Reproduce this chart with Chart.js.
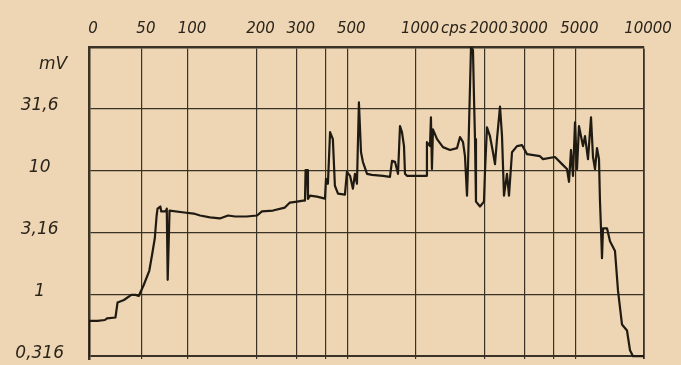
<!DOCTYPE html>
<html>
<head>
<meta charset="utf-8">
<script src="https://cdn.jsdelivr.net/npm/chart.js@4/dist/chart.umd.min.js"></script>
<style>
  html, body { margin: 0; padding: 0; background: #eed6b4; overflow: hidden; }
  #wrap { position: relative; width: 681px; height: 365px; }
</style>
</head>
<body>
<div id="wrap"><canvas id="c"></canvas></div>
<script>
// ---- data (frequency in cps, level in mV) ----
const freqHz = [0,0,8,15,17,25,27,33,40,44,
  47,52,58,61,64,66,67,70,71,76,
  77,78,80,96,106,113,125,138,150,161,
  181,201,211,236,266,280,301,320,326,328,
  333,336,343,368,399,403,411,420,432,441,
  455,488,498,514,529,540,551,562,574,585,
  610,641,717,769,785,809,834,851,868,886,
  895,913,1117,1117,1152,1163,1175,1187,1237,1313,
  1410,1513,1560,1608,1640,1674,1691,1743,1778,1796,
  1815,1833,1909,1987,2007,2048,2111,2176,2221,2266,
  2336,2384,2432,2507,2558,2637,2773,2917,3068,3499,
  3606,4069,4370,4595,4689,4784,4882,4982,5083,5187,
  5401,5511,5681,5856,5975,6097,6222,6348,6412,6477,
  6543,6610,6882,7094,7461,7691,8008,8422,8682,8950,
  10000];
const levelMV = [0.316,0.61,0.61,0.62,0.64,0.65,0.86,0.9,0.99,0.99,
  0.97,1.19,1.55,2.08,2.84,4.34,4.94,5.13,4.68,4.68,
  4.94,1.31,4.76,4.59,4.5,4.34,4.19,4.11,4.34,4.26,
  4.26,4.34,4.68,4.76,5.03,5.52,5.62,5.73,5.73,10.1,
  10.1,5.9,6.28,6.17,5.94,8.6,7.84,20.5,18.0,7.55,
  6.52,6.4,9.78,9.08,7.15,9.43,7.84,35.6,14.1,11.8,
  9.43,9.25,9.08,8.9,12.0,11.8,9.43,22.9,20.5,15.8,
  9.43,9.08,9.08,17.0,15.8,27.0,10.3,21.6,18.0,15.5,
  14.7,15.2,18.7,17.0,13.1,6.28,10.9,100,94.6,39.7,
  18.0,5.62,5.13,5.62,9.78,22.4,19.0,14.1,11.3,18.0,
  33.0,19.0,6.28,9.43,6.28,14.1,15.8,16.1,13.6,13.1,
  12.4,12.9,11.3,10.3,8.13,14.7,9.08,24.6,10.3,22.9,
  15.8,19.0,12.4,27.0,12.9,10.3,15.2,12.4,5.62,3.42,
  1.96,3.42,3.42,2.69,2.24,1.07,0.57,0.51,0.353,0.316,
  0.316];

const xTickFreqs  = [0, 50, 100, 200, 300, 400, 500, 1000, 2000, 3000, 4000, 5000, 10000];
const xTickLabels = ['0','50','100','200','300','','500','1000','2000','3000','','5000','10000'];
const xUnitLabel  = 'cps';
const yTickValues = [0.316, 1, 3.16, 10, 31.6, 100];
const yTickLabels = ['0,316', '1', '3,16', '10', '31,6', ''];
const yUnitLabel  = 'mV';

// frequency axis of the paper: logarithmic above 100 cps, compressed below
function freqToPos(f) {
  if (f >= 100) return Math.log10(f);
  if (f >= 50) return 1.798 + (f - 50) / 50 * (2 - 1.798);
  return 1.566 + f / 50 * (1.798 - 1.566);
}

const ink = '#2a241b';
const gridInk = '#3a3227';
const fontFam = "'DejaVu Sans', sans-serif";

const unitPlugin = {
  id: 'units',
  afterDraw(chart) {
    const ctx = chart.ctx;
    const xs = chart.scales.x, ys = chart.scales.y;
    ctx.save();
    ctx.fillStyle = ink;
    // "cps" after the 1000 label
    const items = xs.getLabelItems();
    const idx = xTickLabels.indexOf('1000');
    const it = items[idx];
    if (it) {
      ctx.font = it.font.string;
      ctx.textBaseline = it.options.textBaseline;
      ctx.textAlign = 'left';
      const w = ctx.measureText(it.label).width;
      ctx.fillText(xUnitLabel, it.options.translation[0] + w / 2 + 2, it.options.translation[1] + it.textOffset);
    }
    // "mV" near the top of the level axis
    ctx.font = "italic 17px " + fontFam;
    ctx.textAlign = 'center';
    ctx.textBaseline = 'middle';
    ctx.fillText(yUnitLabel, chart.chartArea.left - 36, ys.getPixelForValue(72));
    ctx.restore();
  }
};

new Chart(document.getElementById('c'), {
  type: 'line',
  data: {
    datasets: [{
      data: freqHz.map((f, i) => ({ x: freqToPos(f), y: levelMV[i] })),
      borderColor: '#1f1a12',
      borderWidth: 2.2,
      pointRadius: 0,
      tension: 0,
      fill: false,
      borderJoinStyle: 'round',
      borderCapStyle: 'round'
    }]
  },
  options: {
    responsive: true,
    maintainAspectRatio: false,
    animation: false,
    devicePixelRatio: 1,
    layout: { padding: { left: 0, right: 37, top: 0, bottom: 6 } },
    plugins: { legend: { display: false }, tooltip: { enabled: false } },
    scales: {
      x: {
        type: 'linear',
        position: 'top',
        min: freqToPos(0),
        max: freqToPos(10000),
        afterBuildTicks: s => { s.ticks = xTickFreqs.map(f => ({ value: freqToPos(f) })); },
        afterFit: s => { s.height = 47; s.paddingLeft = 0; s.paddingRight = 0; },
        ticks: {
          autoSkip: false, maxRotation: 0, minRotation: 0,
          padding: 9,
          labelOffset: 4,
          color: ink,
          font: { family: fontFam, size: 15, style: 'italic' },
          callback: (v, i) => xTickLabels[i]
        },
        grid: {
          color: gridInk,
          lineWidth: c => (c.index === xTickFreqs.length - 1 ? 1.8 : 1.2),
          drawTicks: false
        },
        border: { display: true, color: gridInk, width: 2.5 }
      },
      y: {
        type: 'logarithmic',
        min: 0.316,
        max: 100,
        afterBuildTicks: s => { s.ticks = yTickValues.map(v => ({ value: v })); },
        afterFit: s => { s.width = 89; s.paddingTop = 0; s.paddingBottom = 0; },
        ticks: {
          autoSkip: false,
          padding: 25,
          labelOffset: -3,
          crossAlign: 'center',
          color: ink,
          font: { family: fontFam, size: 17, style: 'italic' },
          callback: (v, i) => yTickLabels[i]
        },
        grid: {
          color: gridInk,
          lineWidth: c => (c.index === 0 ? 2 : 1.2),
          drawTicks: false
        },
        border: { display: true, color: gridInk, width: 2.5 }
      }
    }
  },
  plugins: [unitPlugin]
});
</script>
</body>
</html>
